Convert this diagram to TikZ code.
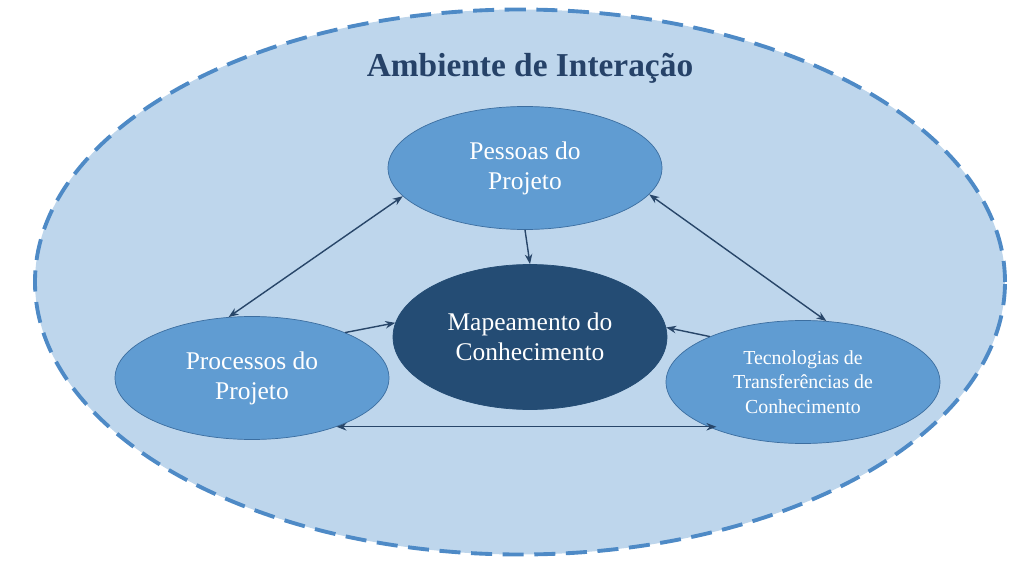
\documentclass[tikz,border=0pt]{standalone}
\usepackage{fontspec}
\setmainfont{Liberation Serif}
\usetikzlibrary{shapes.geometric,arrows.meta,positioning}
\definecolor{envfill}{RGB}{190,214,236}
\definecolor{envline}{RGB}{78,138,198}
\definecolor{midblue}{RGB}{96,156,210}
\definecolor{midline}{RGB}{60,110,160}
\definecolor{darkblue}{RGB}{36,76,116}
\definecolor{titleblue}{RGB}{38,66,104}
\definecolor{arrowblue}{RGB}{40,70,105}
\begin{document}
\begin{tikzpicture}[
    topic/.style={ellipse, draw=midline, fill=midblue, text=white, inner sep=0pt,
        minimum width=5.48cm, minimum height=2.46cm, align=center, font=\fontsize{14.5}{17}\selectfont},
    core/.style={topic, fill=darkblue, draw=darkblue, minimum height=2.9cm, font=\fontsize{14.5}{17}\selectfont},
    link/.style={-{Stealth[length=2mm]}, thick, arrowblue},
    dlink/.style={{Stealth[length=2mm]}-{Stealth[length=2mm]}, thick, arrowblue}
]
    \useasboundingbox (0,0) rectangle (20.48,11.42);
    % environment
    \node[ellipse, draw=envline, fill=envfill, line width=2.2pt, dash pattern=on 12pt off 6pt,
        minimum width=19.4cm, minimum height=10.9cm] (env) at (10.4,5.78) {};
    \node[font=\bfseries\fontsize{19}{22}\selectfont, text=titleblue] (title) at (10.6,10.06) {Ambiente de Interação};

    % topics
    \node[topic] (pes) at (10.5,8.06) {Pessoas do\\Projeto};
    \node[core] (map) at (10.6,4.68) {Mapeamento do\\Conhecimento};
    \node[topic] (pro) at (5.04,3.86) {Processos do\\Projeto};
    \node[topic, font=\fontsize{11.3}{14}\selectfont] (tec) at (16.06,3.78) {Tecnologias de\\Transferências de\\Conhecimento};

    % connectors
    \draw[link] (pes.south) -- (map.north);
    \draw[link] (pro.26) -- (map.174);
    \draw[link] (tec.154) -- (map.4);
    \draw[dlink] (pes.193) -- (pro.111);
    \draw[dlink] (pes.348) -- (tec.69);
    \draw[dlink] (pro.330) -- (pro.330 -| tec.209);
\end{tikzpicture}
\end{document}
